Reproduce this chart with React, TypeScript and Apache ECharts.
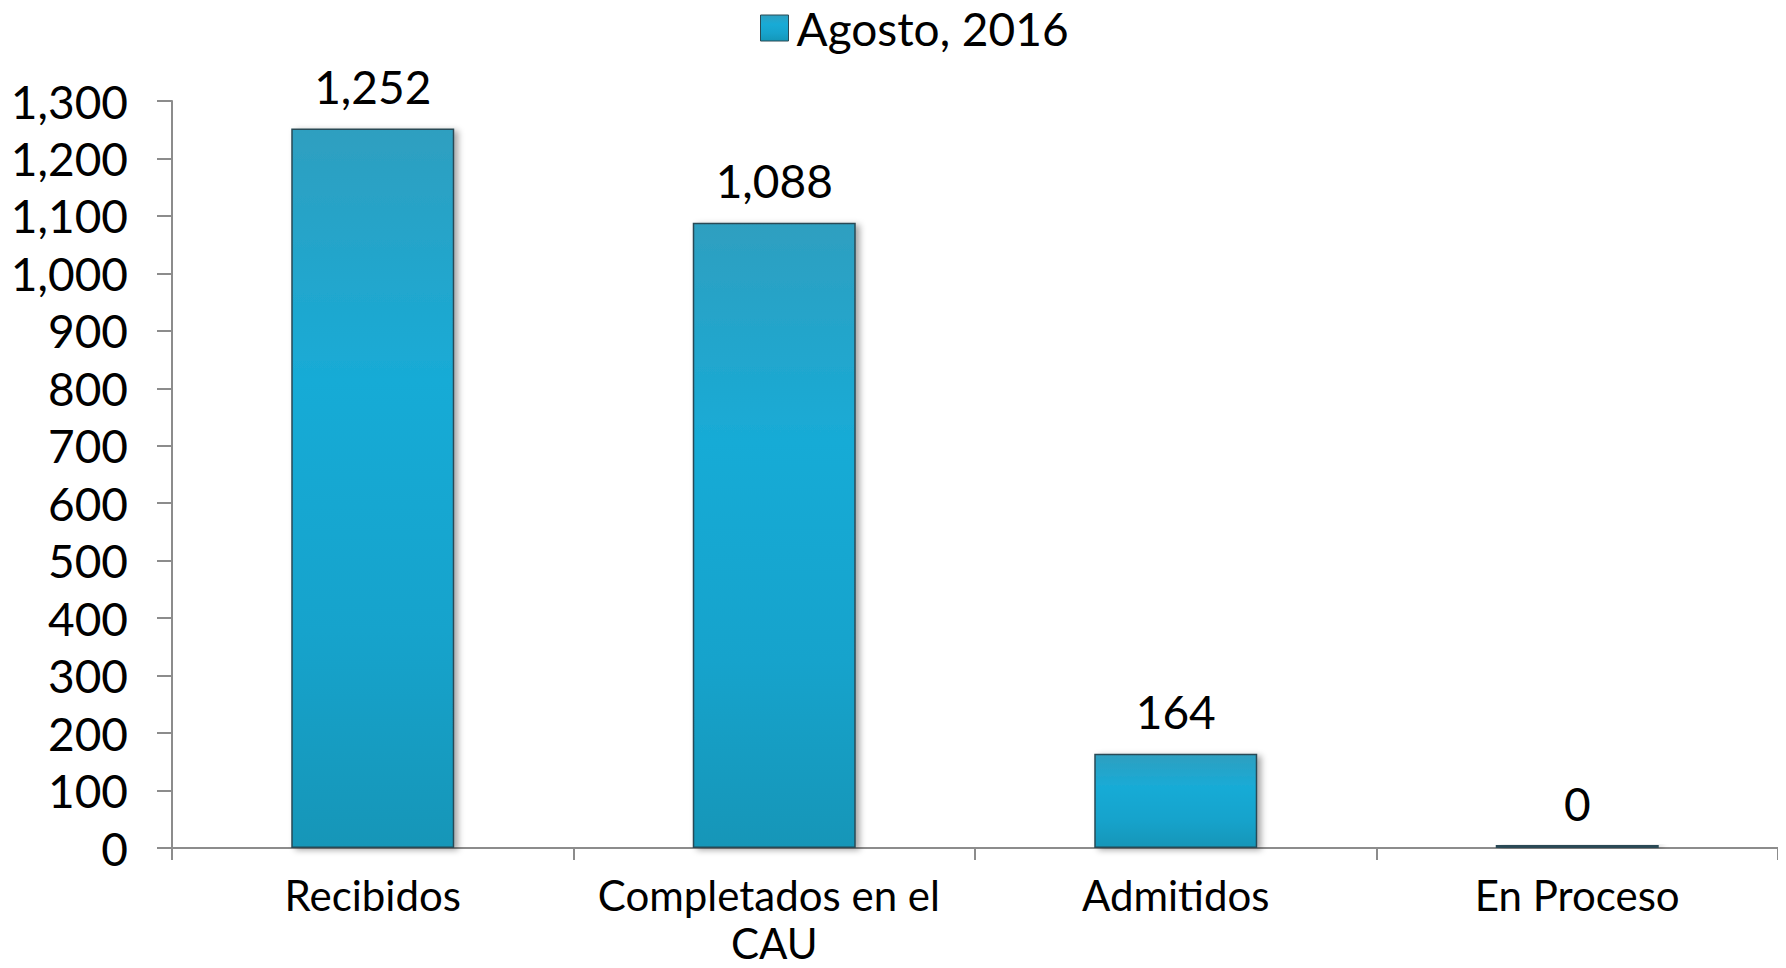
import React, { useEffect, useRef } from "react";
import * as echarts from "echarts";

const categories = ["Recibidos", "Completados en el CAU", "Admitidos", "En Proceso"];
const values = [1252, 1088, 164, 0];
const seriesName = "Agosto, 2016";
const yMin = 0;
const yMax = 1300;
const yInterval = 100;

const FONT = "Lato, 'Open Sans', sans-serif";

export default function App() {
  const ref = useRef<HTMLDivElement>(null);
  useEffect(() => {
    if (!ref.current) return;
    const chart = echarts.init(ref.current, null, { renderer: "svg" });
    const grad = new echarts.graphic.LinearGradient(0, 0, 0, 1, [
      { offset: 0, color: "#2f9fc0" },
      { offset: 0.35, color: "#18abd6" },
      { offset: 0.7, color: "#17a3cc" },
      { offset: 1, color: "#1396b8" },
    ]);
    chart.setOption({
      animation: false,
      backgroundColor: "#ffffff",
      textStyle: { fontFamily: FONT, color: "#000" },
      legend: {
        left: 755,
        top: 0,
        itemWidth: 28,
        itemHeight: 26,
        itemGap: 10,
        icon: "rect",
        data: [seriesName],
        textStyle: { fontFamily: FONT, fontSize: 46, color: "#000", padding: [0, 0, 0, 3] },
        itemStyle: { borderColor: "#2a4a55", borderWidth: 1 },
      },
      grid: {
        left: 172,
        right: 8,
        top: 101,
        bottom: 120,
        containLabel: false,
        outerBoundsMode: "none",
      },
      xAxis: {
        type: "category",
        data: categories,
        axisLine: { show: true, lineStyle: { color: "#8c8c8c", width: 2 } },
        axisTick: { show: true, alignWithLabel: false, length: 12, lineStyle: { color: "#8c8c8c", width: 2 } },
        axisLabel: {
          fontFamily: FONT,
          fontSize: 42,
          color: "#000",
          margin: 23,
          lineHeight: 48,
          width: 390,
          overflow: "break",
          interval: 0,
        },
        splitLine: { show: false },
      },
      yAxis: {
        type: "value",
        min: yMin,
        max: yMax,
        interval: yInterval,
        axisLine: { show: true, lineStyle: { color: "#8c8c8c", width: 2 } },
        axisTick: { show: true, length: 15, lineStyle: { color: "#8c8c8c", width: 2 } },
        axisLabel: {
          fontFamily: FONT,
          fontSize: 46,
          color: "#000",
          margin: 44,
          formatter: (v: number) => v.toLocaleString("en-US"),
        },
        splitLine: { show: false },
      },
      series: [
        {
          name: seriesName,
          type: "bar",
          data: values,
          barWidth: 163,
          barMinHeight: 3,
          itemStyle: {
            color: grad,
            borderColor: "#2a4a55",
            borderWidth: 1.5,
            shadowColor: "rgba(0,0,0,0.35)",
            shadowBlur: 6,
            shadowOffsetX: 4,
            shadowOffsetY: 2,
          },
          label: {
            show: true,
            position: "top",
            distance: 19,
            fontFamily: FONT,
            fontSize: 46,
            color: "#000",
            formatter: (p: any) => Number(p.value).toLocaleString("en-US"),
          },
        },
      ],
    });
    return () => chart.dispose();
  }, []);
  return <div ref={ref} style={{ width: 1786, height: 968, margin: -8 }} />;
}
